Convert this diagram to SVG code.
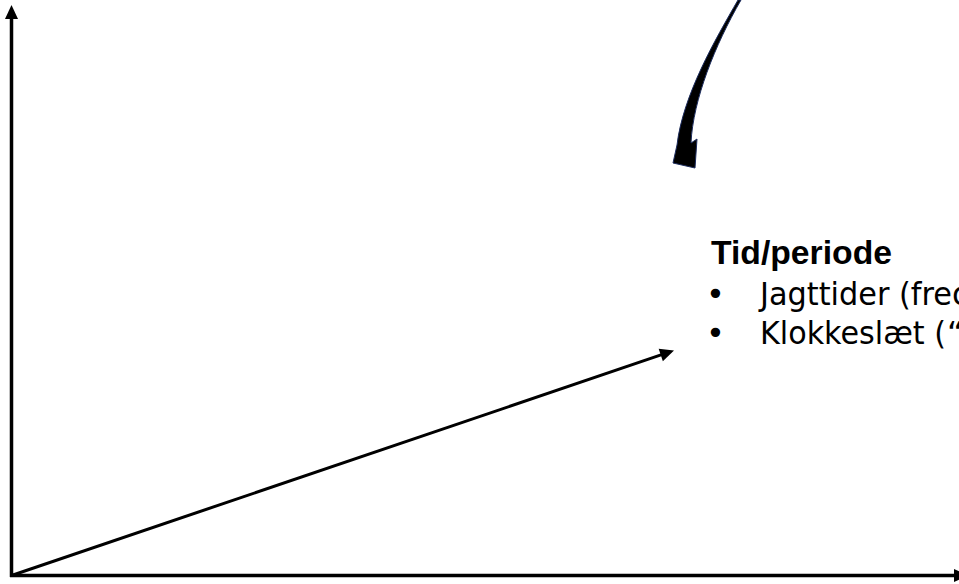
<svg xmlns="http://www.w3.org/2000/svg" width="959" height="584" viewBox="0 0 959 584">
<style>
  .axis { stroke:#000; stroke-width:3.5; fill:none; }
  .diag { stroke:#000; stroke-width:3; fill:none; }
  .title { font-family:"Liberation Sans", "DejaVu Sans", sans-serif; font-weight:bold; font-size:33px; fill:#000; }
  .item { font-family:"DejaVu Sans", "Liberation Sans", sans-serif; font-size:32px; fill:#000; }
  .curve { fill:#000; stroke:#1c2c5e; stroke-width:1; }
</style>
<defs>
  <marker id="head" markerUnits="userSpaceOnUse" markerWidth="15" markerHeight="13" refX="1" refY="6.5" orient="auto" overflow="visible">
    <path d="M0,0 L14,6.5 L0,13 z" fill="#000"/>
  </marker>
</defs>
<rect x="0" y="0" width="959" height="584" fill="#fff"/>
<g id="connectors">
  <line class="axis" x1="11.5" y1="577" x2="11.5" y2="18" marker-end="url(#head)"/>
  <line class="axis" x1="10" y1="575.5" x2="955" y2="575.5" marker-end="url(#head)"/>
  <line class="diag" x1="11.5" y1="575.5" x2="661.7" y2="354.7" marker-end="url(#head)"/>
  <path class="curve" d="M738,0 C715,40 683,95 677,145 L673,163 L695,168 L697,139 L691,143 C693,100 715,45 741,0 Z"/>
</g>
<g id="label-tid-periode">
  <text class="title" x="711" y="264" textLength="181" lengthAdjust="spacingAndGlyphs">Tid/periode</text>
  <text class="item" x="706" y="305">•</text>
  <text class="item" y="305"><tspan x="760" textLength="192" lengthAdjust="spacingAndGlyphs">Jagttider (fre</tspan><tspan x="952">d</tspan></text>
  <text class="item" x="706" y="344">•</text>
  <text class="item" y="344"><tspan x="760" textLength="186" lengthAdjust="spacingAndGlyphs">Klokkeslæt (</tspan><tspan x="947">“</tspan></text>
</g>
</svg>
